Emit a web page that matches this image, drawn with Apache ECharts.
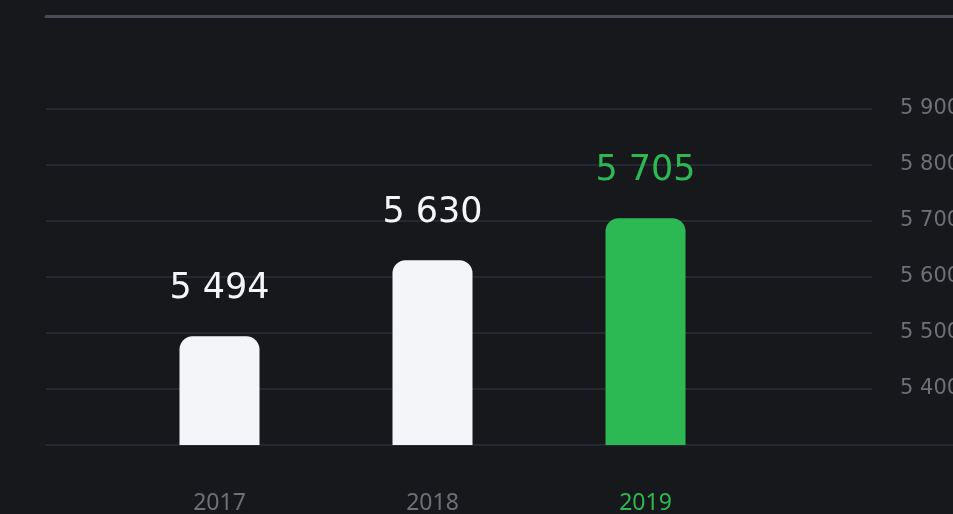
<!DOCTYPE html>
<html lang="en">
<head>
	<meta charset="UTF-8">
	<title>Bars</title>
	<script src="https://cdn.jsdelivr.net/npm/echarts@6/dist/echarts.min.js"></script>
	<style>
		html, body { margin: 0; padding: 0; background: #17181b; }
	</style>
</head>
<body>
	<div id="main" style="width: 953px;height:514px;"></div>
	<script type="text/javascript">
		// data
		var years = ['2017', '2018', '2019'];
		var values = [5494, 5630, 5705];
		var yTicks = { min: 5300, max: 5900, step: 100 };

		var WHITE = '#f4f5f9';
		var GREEN = '#2cb853';
		var GREY = '#6e6f78';

		function fmt(v) {
			return String(v).replace(/\B(?=(\d{3})+(?!\d))/g, ' ');
		}

		var myChart = echarts.init(document.getElementById('main'));

		var option = {
			backgroundColor: '#17181b',
			animation: false,
			grid: [
				// bars
				{ left: 113, width: 639, top: 109, height: 336, outerBoundsMode: 'none' },
				// value gridlines + labels
				{ left: 46, width: 826, top: 109, height: 336, outerBoundsMode: 'none' },
				// top & bottom frame lines
				{ left: 46, right: 0, top: 16, height: 429, outerBoundsMode: 'none' }
			],
			xAxis: [
				{
					gridIndex: 0,
					type: 'category',
					data: years,
					axisLine: { show: false },
					axisTick: { show: false },
					axisLabel: {
						margin: 47,
						fontFamily: 'Noto Sans',
						fontSize: 23,
						color: function (val, i) { return i === years.length - 1 ? GREEN : GREY; }
					}
				},
				{
					gridIndex: 1, type: 'value', show: false
				},
				{
					gridIndex: 2, type: 'value', position: 'bottom',
					axisLine: { show: true, lineStyle: { color: '#252731', width: 2 } },
					axisTick: { show: false }, axisLabel: { show: false }, splitLine: { show: false }
				},
				{
					gridIndex: 2, type: 'value', position: 'top',
					axisLine: { show: true, lineStyle: { color: '#4b4b57', width: 3 } },
					axisTick: { show: false }, axisLabel: { show: false }, splitLine: { show: false }
				}
			],
			yAxis: [
				{
					gridIndex: 0, type: 'value',
					min: yTicks.min, max: yTicks.max, interval: yTicks.step,
					show: false
				},
				{
					gridIndex: 1, type: 'value', position: 'right',
					min: yTicks.min, max: yTicks.max, interval: yTicks.step,
					axisLine: { show: false },
					axisTick: { show: false },
					splitLine: { show: true, lineStyle: { color: '#252731', width: 2 } },
					axisLabel: {
						margin: 28,
						showMinLabel: false,
						fontFamily: 'DejaVu Sans',
						fontSize: 21,
						color: GREY,
						formatter: fmt
					}
				},
				{
					gridIndex: 2, type: 'value', show: false
				}
			],
			series: [{
				type: 'bar',
				xAxisIndex: 0,
				yAxisIndex: 0,
				barWidth: 80,
				data: values.map(function (v, i) {
					var c = i === values.length - 1 ? GREEN : WHITE;
					return {
						value: v,
						itemStyle: { color: c, borderRadius: [13, 13, 0, 0] },
						label: { color: c }
					};
				}),
				label: {
					show: true,
					position: 'top',
					distance: 30,
					fontFamily: 'DejaVu Sans',
					fontSize: 35,
					formatter: function (p) { return fmt(p.value); }
				}
			}]
		};

		myChart.setOption(option);
	</script>
</body>
</html>
